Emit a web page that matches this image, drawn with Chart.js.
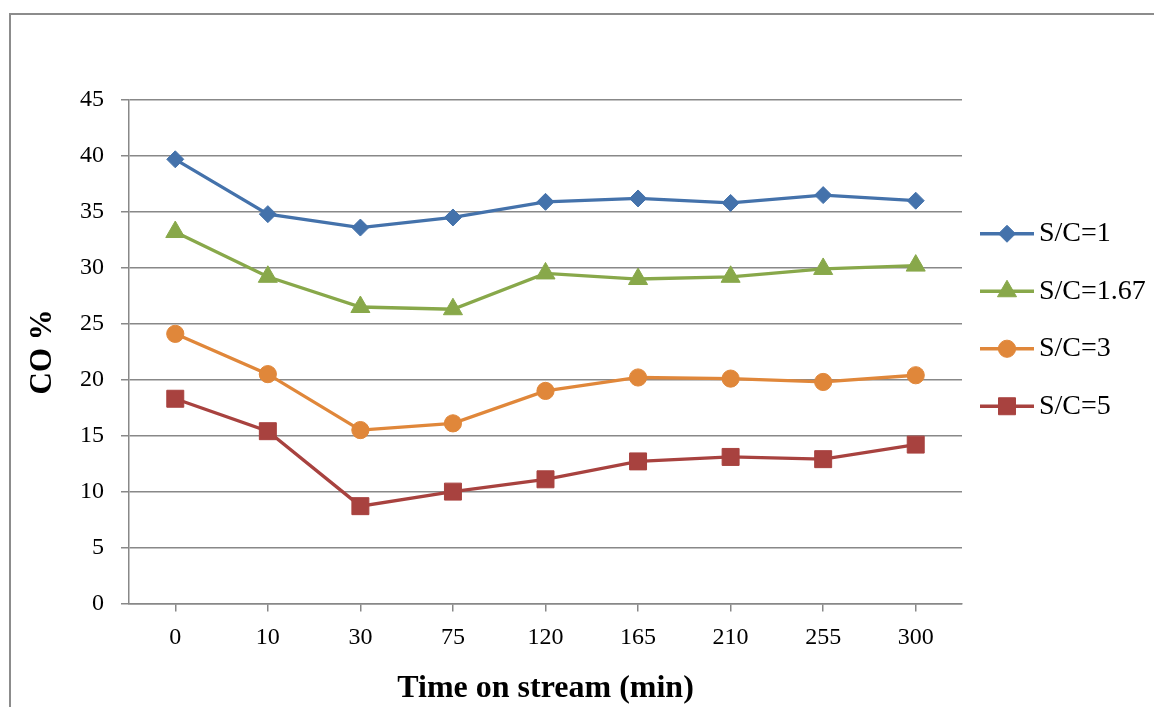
<!DOCTYPE html>
<html>
<head>
<meta charset="utf-8">
<script src="https://cdn.jsdelivr.net/npm/chart.js@4.4.1/dist/chart.umd.min.js"></script>
<style>
  html, body { margin: 0; padding: 0; background: #fff; overflow: hidden; }
  #wrap { position: relative; width: 1154px; height: 707px; }
  #frame { position: absolute; left: 9px; top: 13px; width: 1300px; height: 900px; border: 2px solid #8c8c8c; box-sizing: border-box; }
  canvas { position: absolute; left: 0; top: 0; }
</style>
</head>
<body>
<div id="wrap">
  <div id="frame"></div>
  <canvas id="coChart" width="1154" height="707"></canvas>
</div>
<script>
const timeLabels = ["0", "10", "30", "75", "120", "165", "210", "255", "300"];
const sc1 = [39.7, 34.8, 33.6, 34.5, 35.9, 36.2, 35.8, 36.5, 36.0];
const sc167 = [33.2, 29.2, 26.5, 26.3, 29.5, 29.0, 29.2, 29.9, 30.2];
const sc3 = [24.1, 20.5, 15.5, 16.1, 19.0, 20.2, 20.1, 19.8, 20.4];
const sc5 = [18.3, 15.4, 8.7, 10.0, 11.1, 12.7, 13.1, 12.9, 14.2];
const yTicks = [0, 5, 10, 15, 20, 25, 30, 35, 40, 45];

const serif = "'Liberation Serif', 'Times New Roman', serif";
const gridGray = '#888888';

function series(label, data, color, style, radius) {
    return {
        label: label,
        data: data,
        borderColor: color,
        backgroundColor: color,
        borderWidth: 3.3,
        pointStyle: style,
        pointRadius: radius,
        pointBorderWidth: 1,
        pointBackgroundColor: color,
        pointBorderColor: color,
        tension: 0
    };
}

// legend drawn as line + marker, like the original
const lineLegend = {
    id: 'lineLegend',
    afterDraw(chart) {
        const ctx = chart.ctx;
        const sets = chart.data.datasets;
        const x0 = chart.chartArea.right + 18;
        const midY = 320;
        const step = 57.5;
        ctx.save();
        sets.forEach((ds, i) => {
            const y = midY + (i - (sets.length - 1) / 2) * step;
            ctx.strokeStyle = ds.borderColor;
            ctx.lineWidth = 3.3;
            ctx.beginPath();
            ctx.moveTo(x0, y);
            ctx.lineTo(x0 + 54, y);
            ctx.stroke();
            ctx.fillStyle = ds.pointBackgroundColor;
            ctx.lineWidth = 1;
            Chart.helpers.drawPoint(ctx, {pointStyle: ds.pointStyle, radius: ds.pointRadius, rotation: 0, borderWidth: 1}, x0 + 27, y);
            ctx.fillStyle = '#000';
            ctx.font = '28px ' + serif;
            ctx.textBaseline = 'middle';
            ctx.textAlign = 'left';
            ctx.fillText(ds.label, x0 + 59, y);
        });
        ctx.restore();
    }
};

new Chart('coChart', {
    type: 'line',
    data: {
        labels: timeLabels,
        datasets: [
            series('S/C=1', sc1, '#4472AB', 'rectRot', 8.5),
            series('S/C=1.67', sc167, '#88A84A', 'triangle', 11),
            series('S/C=3', sc3, '#E0873A', 'circle', 8.6),
            series('S/C=5', sc5, '#A8423F', 'rect', 12)
        ]
    },
    options: {
        responsive: false,
        animation: false,
        events: [],
        layout: {padding: {top: 100, right: 192, bottom: 0, left: 0}},
        plugins: {
            legend: {display: false},
            tooltip: {enabled: false}
        },
        scales: {
            x: {
                offset: true,
                grid: {display: true, drawOnChartArea: false, drawTicks: true, tickLength: 8, color: gridGray, lineWidth: 1.5, offset: false},
                border: {display: true, color: gridGray, width: 1.5},
                ticks: {color: '#000', font: {family: serif, size: 24}, padding: 12, maxRotation: 0},
                title: {display: true, text: 'Time on stream (min)', color: '#000', font: {family: serif, size: 32, weight: 'bold'}, padding: {top: 0, bottom: -1}},
                afterFit(scale) { scale.height = 103.5; }
            },
            y: {
                min: 0,
                max: 45,
                afterBuildTicks(scale) { scale.ticks = yTicks.map(v => ({value: v})); },
                grid: {color: gridGray, lineWidth: 1.5, tickLength: 8, drawTicks: true},
                border: {display: true, color: gridGray, width: 1.5},
                ticks: {color: '#000', font: {family: serif, size: 24}, padding: 17},
                title: {display: true, text: 'CO %', color: '#000', font: {family: serif, size: 31, weight: 'bold'}, padding: {top: 24, bottom: 0}},
                afterFit(scale) { scale.width = 129; }
            }
        }
    },
    plugins: [lineLegend]
});
</script>
</body>
</html>
